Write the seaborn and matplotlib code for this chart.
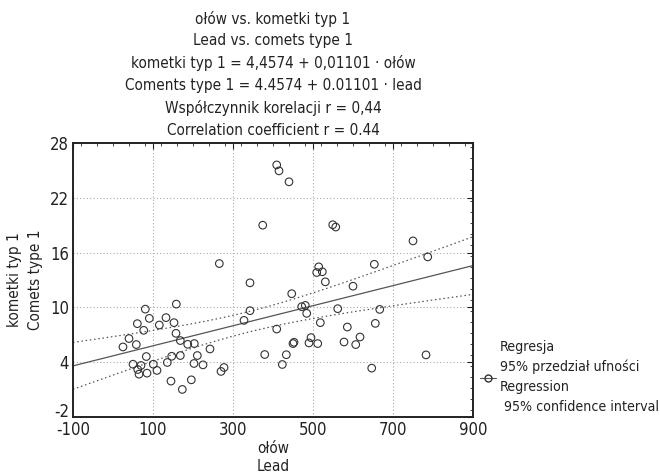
import numpy as np
import pandas as pd
import matplotlib
matplotlib.use("Agg")
import matplotlib.pyplot as plt
from matplotlib.lines import Line2D
from matplotlib.ticker import MultipleLocator
import seaborn as sns

# ---- data ----
lead = [158.3, 80.8, 90.8, 132.5, 60.8, 115.8, 152.5, 76.8, 157.5, 40.0,
        168.3, 186.8, 203.3, 25.0, 58.3, 242.5, 83.3, 146.8, 168.3, 210.8,
        135.8, 202.5, 225.0, 50.0, 70.0, 100.8, 61.8, 110.0, 65.0, 85.0,
        270.0, 277.5, 145.0, 195.8, 173.3, 342.5, 342.5, 327.5, 409.3, 379.3,
        433.3, 423.3, 374.3, 265.8, 409.3, 415.0, 440.0, 549.3, 556.8, 750.0,
        786.8, 653.3, 514.3, 509.3, 523.3, 530.8, 600.0, 446.8, 471.8, 480.8,
        484.3, 561.8, 666.8, 518.3, 585.8, 655.8, 495.0, 617.5, 452.5, 450.0,
        490.0, 511.8, 577.5, 606.8, 782.5, 646.8]
comets = [10.36, 9.81, 8.80, 8.88, 8.22, 8.07, 8.33, 7.49, 7.16, 6.59,
          6.37, 5.96, 6.04, 5.67, 5.93, 5.45, 4.62, 4.65, 4.73, 4.73,
          3.97, 3.86, 3.71, 3.78, 3.64, 3.78, 3.20, 3.10, 2.69, 2.80,
          2.99, 3.42, 1.93, 2.07, 1.02, 12.69, 9.64, 8.58, 7.63, 4.84,
          4.82, 3.75, 19.00, 14.80, 25.60, 24.95, 23.75, 19.05, 18.80, 17.28,
          15.53, 14.72, 14.44, 13.82, 13.90, 12.80, 12.32, 11.50, 10.08, 10.22,
          9.35, 9.86, 9.78, 8.33, 7.85, 8.25, 6.69, 6.76, 6.18, 6.04,
          6.11, 6.04, 6.21, 5.93, 4.80, 3.35]

x_ticks = [-100, 100, 300, 500, 700, 900]
y_ticks = [-2, 4, 10, 16, 22, 28]

title_lines = ["ołów vs. kometki typ 1",
               "Lead vs. comets type 1",
               "kometki typ 1 = 4,4574 + 0,01101 \u00b7 ołów",
               "Coments type 1 = 4.4574 + 0.01101 \u00b7 lead",
               "Współczynnik korelacji r = 0,44",
               "Correlation coefficient r = 0.44"]
x_label = "ołów\nLead"
y_label = "kometki typ 1\nComets type 1"
legend_label = "Regresja\n95% przedział ufności\nRegression\n 95% confidence interval"

df = pd.DataFrame({"lead": lead, "comets": comets})

# ---- style ----
sns.set_style("white")
plt.rcParams["font.family"] = ["DejaVu Sans"]
plt.rcParams["font.stretch"] = "condensed"
plt.rcParams["axes.unicode_minus"] = False

FS = 11
TXT = "#222222"

fig = plt.figure(figsize=(6.6, 4.73), dpi=100)
ax = fig.add_axes([73 / 660, 1 - 417 / 473, 400 / 660, 274 / 473])
ax.set_xlim(x_ticks[0], x_ticks[-1])
ax.set_ylim(y_ticks[0], y_ticks[-1])

# regression line across full axis
sns.regplot(data=df, x="lead", y="comets", ax=ax, scatter=False, ci=None,
            truncate=False, line_kws=dict(color="#555555", lw=0.9))

# confidence band (95% for the mean) drawn as dotted lines
xv = np.asarray(lead, float)
yv = np.asarray(comets, float)
n = len(xv)
b1, b0 = np.polyfit(xv, yv, 1)
resid = yv - (b0 + b1 * xv)
s = np.sqrt(np.sum(resid ** 2) / (n - 2))
xbar = xv.mean()
sxx = np.sum((xv - xbar) ** 2)
tcrit = 1.993
xs = np.linspace(x_ticks[0], x_ticks[-1], 200)
se = s * np.sqrt(1 / n + (xs - xbar) ** 2 / sxx)
yhat = b0 + b1 * xs
ax.plot(xs, yhat + tcrit * se, color="#555555", lw=0.9, ls=(0, (1.2, 2.2)))
ax.plot(xs, yhat - tcrit * se, color="#555555", lw=0.9, ls=(0, (1.2, 2.2)))

sns.scatterplot(data=df, x="lead", y="comets", ax=ax, marker="o", s=30,
                facecolor="none", edgecolor="#333333", linewidth=0.8,
                zorder=3)

ax.set_xticks(x_ticks)
ax.set_yticks(y_ticks)
ax.xaxis.set_minor_locator(MultipleLocator(40))
ax.yaxis.set_minor_locator(MultipleLocator(1.2))
ax.tick_params(which="both", direction="in", top=True, right=True,
               color=TXT)
ax.tick_params(which="major", length=4, width=0.8, labelsize=FS + 1, pad=3,
               labelcolor=TXT)
ax.tick_params(which="minor", length=2.5, width=0.6)
ax.grid(True, which="major", ls=(0, (1, 2)), color="#aaaaaa", lw=0.8)
for sp in ax.spines.values():
    sp.set_visible(True)
    sp.set_color(TXT)
    sp.set_linewidth(1.4)

fig.canvas.draw()
ylabs = ax.get_yticklabels()
ylabs[0].set_verticalalignment("baseline")

ax.set_xlabel(x_label, fontsize=FS, color=TXT, linespacing=1.3, labelpad=1)
ax.set_ylabel(y_label, fontsize=FS, color=TXT, linespacing=1.5, labelpad=5)
ax.set_title("\n".join(title_lines), fontsize=FS, color=TXT,
             linespacing=1.55, pad=6)

handle = Line2D([], [], color="#555555", lw=0.8, marker="o", ms=5,
                mfc="none", mec="#333333")
leg = fig.legend([handle], [legend_label], loc="center left",
                 bbox_to_anchor=(480 / 660, 1 - 377 / 473), frameon=False,
                 fontsize=10.2, handlelength=1.1, handletextpad=0.3,
                 borderaxespad=0, borderpad=0)
for t in leg.get_texts():
    t.set_linespacing(1.55)
    t.set_color(TXT)

fig.savefig("out.png", dpi=100)
